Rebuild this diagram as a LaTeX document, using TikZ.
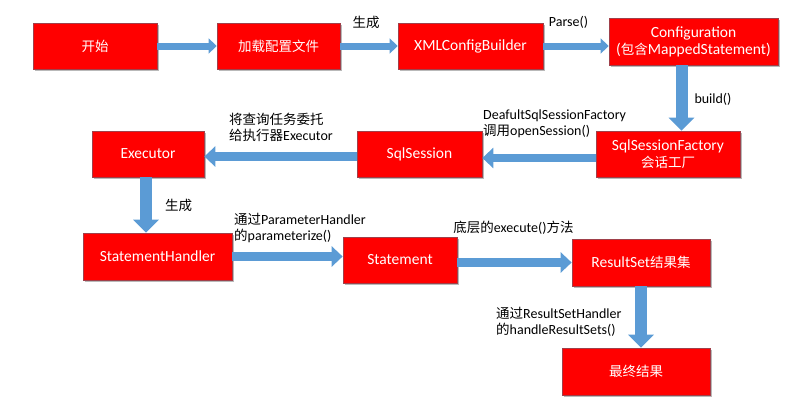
\documentclass[tikz,border=0pt]{standalone}
\usepackage{fontspec}
\setmainfont{Carlito}
\newfontfamily\cjkfont{Noto Sans CJK SC}
\newcommand\zh[1]{{\fontsize{13.5}{16}\cjkfont #1}}
\usetikzlibrary{arrows.meta,shadows}
\definecolor{boxred}{HTML}{FF0000}
\definecolor{boxedge}{HTML}{A0404A}
\definecolor{arrblue}{HTML}{5B9BD5}
\begin{document}
\begin{tikzpicture}[x=1pt,y=-1pt,
  box/.style={fill=boxred, draw=boxedge, line width=0.7pt, text=white,
    font=\fontsize{15.5}{17}\selectfont, align=center, inner sep=0pt,
    drop shadow={shadow xshift=2pt, shadow yshift=-2pt, fill=black!50, opacity=0.55}},
  lbl/.style={font=\fontsize{14}{16}\selectfont, inner sep=0pt, align=left},
  toparrow/.style={arrblue, line width=7pt, -{Triangle[width=15pt,length=8pt]}},
  midarrow/.style={arrblue, line width=8.5pt, -{Triangle[width=20pt,length=11pt]}},
  vertarrow/.style={arrblue, line width=12pt, -{Triangle[width=25pt,length=13pt]}}
]
\useasboundingbox (0,0) rectangle (811,415);

% boxes
\node[box, minimum width=124pt, minimum height=46pt] (start) at (95,46) {\zh{开始}};
\node[box, minimum width=123pt, minimum height=46pt] (load) at (278.5,46) {\zh{加载配置文件}};
\node[box, minimum width=145pt, minimum height=46pt] (xml) at (470.5,46) {XMLConfigBuilder};
\node[box, minimum width=169pt, minimum height=47pt] (conf) at (693.5,41.5) {Configuration\\(\zh{包含}MappedStatement)};
\node[box, minimum width=144pt, minimum height=46pt] (factory) at (668,154) {SqlSessionFactory\\\zh{会话工厂}};
\node[box, minimum width=125pt, minimum height=46pt] (session) at (419.5,154) {SqlSession};
\node[box, minimum width=112pt, minimum height=46pt] (executor) at (148,154) {Executor};
\node[box, minimum width=149pt, minimum height=47pt] (handler) at (157.5,256.5) {StatementHandler};
\node[box, minimum width=114pt, minimum height=46pt] (statement) at (400,260) {Statement};
\node[box, minimum width=138pt, minimum height=47pt] (resultset) at (641,262.5) {ResultSet\zh{结果集}};
\node[box, minimum width=148pt, minimum height=47pt] (final) at (636,371.5) {\zh{最终结果}};

% arrows
\draw[toparrow] (start.east) -- (load.west);
\draw[toparrow] (load.east) -- (xml.west);
\draw[toparrow] (xml.east) -- (xml.east -| conf.west);
\draw[vertarrow] ([xshift=-12pt]conf.south) -- ([xshift=-12pt]conf.south |- factory.north);
\draw[midarrow] ([yshift=-4pt]factory.west) -- ([yshift=-4pt]session.east);
\draw[midarrow] ([yshift=-2.5pt]session.west) -- ([yshift=-2.5pt]executor.east);
\draw[vertarrow] ([xshift=-2pt]executor.south) -- ([xshift=-2pt]executor.south |- handler.north);
\draw[midarrow] (handler.east) -- (handler.east -| statement.west);
\draw[midarrow] (statement.east |- resultset.west) -- (resultset.west);
\draw[vertarrow] (resultset.south) -- (resultset.south |- final.north);

% labels
\node[lbl] (l1) at (366,22) {\zh{生成}};
\node[lbl] (l2) at (568.5,22) {Parse()};
\node[lbl] (l3) at (713,99) {build()};
\node[lbl, anchor=north west] (l4) at (483,110) {DeafultSqlSessionFactory\\\zh{调用}openSession()};
\node[lbl, anchor=north west] (l5) at (229,113) {\zh{将查询任务委托}\\\zh{给执行器}Executor};
\node[lbl] (l6) at (178.5,205) {\zh{生成}};
\node[lbl, anchor=north west] (l7) at (234,213) {\zh{通过}ParameterHandler\\\zh{的}parameterize()};
\node[lbl] (l8) at (513.5,227.5) {\zh{底层的}execute()\zh{方法}};
\node[lbl, anchor=north west] (l9) at (496,307) {\zh{通过}ResultSetHandler\\\zh{的}handleResultSets()};
\end{tikzpicture}
\end{document}
